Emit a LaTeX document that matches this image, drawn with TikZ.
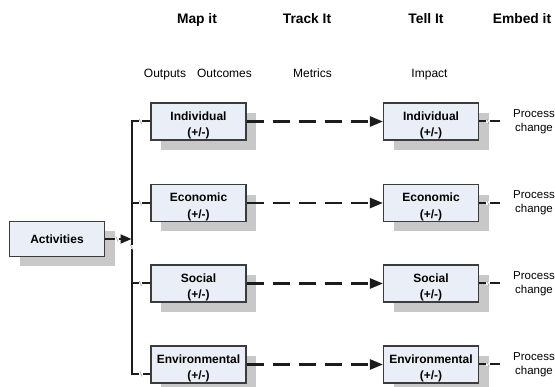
\documentclass[tikz,border=0pt]{standalone}
\usepackage{fontspec}
\setmainfont{Liberation Sans}
\usetikzlibrary{arrows.meta,positioning,calc,shadows}
\definecolor{cbox}{RGB}{233,238,247}
\definecolor{cedge}{RGB}{60,60,60}
\definecolor{cshade}{RGB}{200,200,200}
\definecolor{cline}{RGB}{28,28,28}
\newcommand{\hop}[1]{%
  \fill[white] ($#1+(-1.6,-1.6)$) rectangle ($#1+(1.6,1.6)$);
  \draw[gray!70, line width=0.7pt] ($#1+(-1.2,-2.6)$) -- ($#1+(1.2,2.6)$);}

\begin{document}
\begin{tikzpicture}[x=1pt, y=-1pt,
    box/.style={draw=cedge, line width=1.1pt, fill=cbox, minimum width=95pt,
      minimum height=35pt, inner sep=1pt, align=center,
      font=\fontsize{12}{16.5}\selectfont\bfseries,
      general shadow={fill=cshade, shadow xshift=10pt, shadow yshift=-10pt}},
    head/.style={anchor=base, font=\fontsize{13.8}{16}\selectfont\bfseries},
    sub/.style={anchor=base, font=\fontsize{12}{14}\selectfont},
    note/.style={align=center, inner sep=0pt, font=\fontsize{11.5}{14}\selectfont},
    conn/.style={draw=cline, line width=2pt, line join=miter},
    dconn/.style={conn, line width=2.4pt, dash pattern=on 17pt off 9pt,
      -{Triangle[length=13pt,width=10pt]}}]
    \useasboundingbox (0,0) rectangle (555,387);

    \node[head] (hMap)   at (197,24)   {Map it};
    \node[head] (hTrack) at (307,24)   {Track It};
    \node[head] (hTell)  at (426,24)   {Tell It};
    \node[head] (hEmbed) at (522,24)   {Embed it};
    \node[sub] (sOut)    at (165,77.5) {Outputs};
    \node[sub] (sOutc)   at (224.5,77.5) {Outcomes};
    \node[sub] (sMet)    at (312.5,77.5) {Metrics};
    \node[sub] (sImp)    at (429.5,77.5) {Impact};

    \node[box] (act) at (57,239) {Activities};

    \foreach \r/\y/\t in {ind/121.5/Individual, eco/203/Economic,
                          soc/283.5/Social, env/364.5/Environmental} {
      \node[box] (\r L) at (198.5,\y) {\rule{0pt}{16pt}\t\\(+/-)};
      \node[box] (\r R) at (431,\y)   {\rule{0pt}{16pt}\t\\(+/-)};
      \node[note] (\r P) at (534,\y)  {Process\\change};
      \draw[dconn] (\r L.east) -- (\r R.west);
      \draw[conn] (\r R.east) -- ++(21,0) coordinate (\r E);
      \hop{([xshift=9pt]\r R.east)}
    }

    \coordinate (busTop) at (131.5,121.5);
    \coordinate (busBot) at (131.5,374);
    \draw[conn] (indL.west) -- (busTop) -- (busBot) -- (busBot -| envL.west);
    \draw[conn] (ecoL.west) -- (ecoL.west -| busTop);
    \draw[conn] (socL.west) -- (socL.west -| busTop);
    \draw[conn, -{Triangle[length=11pt,width=9pt]}] (act.east) -- (act.east -| busTop);

    \foreach \r in {ind,eco,soc} {
      \hop{([xshift=-10pt]\r L.west)}
    }
    \hop{(141,374)}
    \hop{(117,239)}
    \hop{(131.5,247)}
\end{tikzpicture}
\end{document}
